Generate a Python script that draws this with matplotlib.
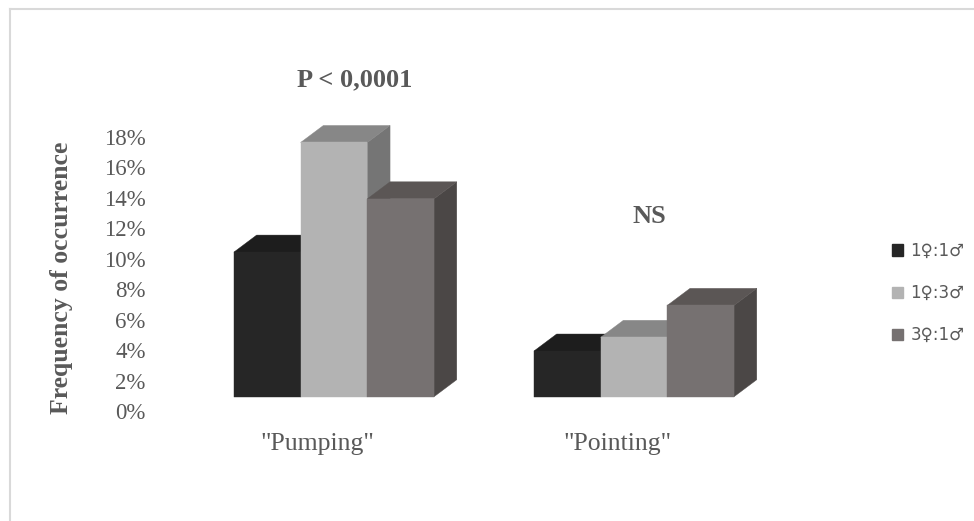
import matplotlib

matplotlib.use("Agg")
import matplotlib.pyplot as plt
from matplotlib.lines import Line2D
from matplotlib.patches import Patch, Polygon

# frequency of occurrence (%) per behaviour and sex ratio
categories = ['"Pumping"', '"Pointing"']
series = ["1♀:1♂", "1♀:3♂", "3♀:1♂"]
values = [
    [9.5, 3.0],    # 1♀:1♂
    [16.7, 3.9],   # 1♀:3♂
    [13.0, 6.0],   # 3♀:1♂
]
significance = ["P < 0,0001", "NS"]
yticks = list(range(0, 19, 2))

# face colours for each series: front, top, side
front_colors = ["#262626", "#b3b3b3", "#767171"]
top_colors = ["#1d1d1d", "#878787", "#5b5655"]
side_colors = ["#1a1a1a", "#757575", "#4b4746"]

W, H = 974, 521
fig = plt.figure(figsize=(W / 100, H / 100), dpi=100)
fig.patch.set_facecolor("white")

# axes placed in pixels so that 0 % sits at y=411 and 18 % at y=137
ax_left, ax_right = 150, 800
ax_bottom, ax_top = 411, 137
ax = fig.add_axes([ax_left / W, 1 - ax_bottom / H, (ax_right - ax_left) / W, (ax_bottom - ax_top) / H])
px_per_x = 300.0          # pixels between category centres
px_per_pct = (ax_bottom - ax_top) / 18.0
x0 = (ax_left - 334) / px_per_x
ax.set_xlim(x0, x0 + (ax_right - ax_left) / px_per_x)
ax.set_ylim(0, 18)

bar_w = 66.7 / px_per_x
depth_x = 22.7 / px_per_x
depth_y = 17.0 / px_per_pct
base = 14.3 / px_per_pct   # front faces are drawn slightly in front of the value axis


def box(x, v, i, z):
    t = base + v
    front = [(x, base), (x + bar_w, base), (x + bar_w, t), (x, t)]
    top = [(x, t), (x + bar_w, t), (x + bar_w + depth_x, t + depth_y), (x + depth_x, t + depth_y)]
    side = [(x + bar_w, base), (x + bar_w + depth_x, base + depth_y),
            (x + bar_w + depth_x, t + depth_y), (x + bar_w, t)]
    for pts, col in ((side, side_colors[i]), (top, top_colors[i]), (front, front_colors[i])):
        ax.add_patch(Polygon(pts, closed=True, facecolor=col, edgecolor=col,
                             linewidth=0.3, zorder=z, clip_on=False))


z = 2
for c in range(len(categories)):
    for i in range(len(series)):
        x = c - 1.5 * bar_w + i * bar_w
        box(x, values[i][c], i, z)
        z += 1

for spine in ax.spines.values():
    spine.set_visible(False)
ax.set_yticks(yticks)
ax.set_yticklabels([f"{t}%" for t in yticks], family="Liberation Serif", fontsize=16.5, color="#595959")
ax.tick_params(axis="y", length=0, pad=3)
ax.set_xticks([c - 0.055 for c in range(len(categories))])
ax.set_xticklabels(categories, family="Liberation Serif", fontsize=18.5, color="#595959")
ax.tick_params(axis="x", length=0, pad=16)
ax.patch.set_alpha(0)

# significance labels above each group
sig_pos = [(0.07, 21.75), (1.05, 12.8)]
for (sx, sy), s in zip(sig_pos, significance):
    ax.text(sx, sy, s, ha="center", va="center", family="Liberation Serif",
            fontweight="bold", fontsize=19, color="#595959", clip_on=False)

fig.text(62 / W, 1 - 278 / H, "Frequency of occurrence", rotation=90, ha="center", va="center",
         family="Liberation Serif", fontweight="bold", fontsize=18.5, color="#595959")

handles = [Patch(facecolor=front_colors[i], edgecolor=front_colors[i], label=series[i])
           for i in range(len(series))]
fig.legend(handles=handles, loc="center left", bbox_to_anchor=(892 / W, 1 - 293 / H),
           frameon=False, prop={"family": "DejaVu Sans", "size": 12}, labelcolor="#595959",
           handlelength=0.65, handleheight=0.65, handletextpad=0.45, labelspacing=1.45,
           borderpad=0, borderaxespad=0)

# chart area border (top and left edges)
border = "#d9d9d9"
fig.add_artist(Line2D([10 / W, 1], [1 - 8.5 / H, 1 - 8.5 / H], color=border, lw=1.5, transform=fig.transFigure))
fig.add_artist(Line2D([10 / W, 10 / W], [0, 1 - 8.5 / H], color=border, lw=1.5, transform=fig.transFigure))

fig.savefig("out.png", dpi=100)
